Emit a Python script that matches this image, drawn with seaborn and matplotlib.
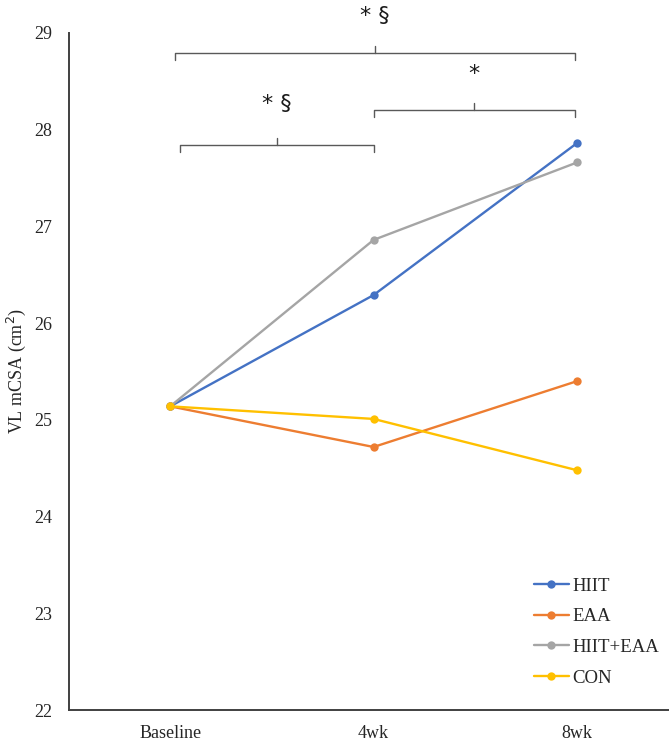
import numpy as np
import pandas as pd
import matplotlib.pyplot as plt
import seaborn as sns

# data
timepoints = ['Baseline', '4wk', '8wk']
groups = ['HIIT', 'EAA', 'HIIT+EAA', 'CON']
hiit = [25.14, 26.29, 27.86]
eaa = [25.14, 24.72, 25.40]
hiit_eaa = [25.14, 26.86, 27.66]
con = [25.14, 25.01, 24.48]
colors = ['#4472C4', '#ED7D31', '#A5A5A5', '#FFC000']

rows = []
for g, vals in zip(groups, [hiit, eaa, hiit_eaa, con]):
    for i, v in enumerate(vals):
        rows.append({'group': g, 'pos': i, 'time': timepoints[i], 'value': v})
df = pd.DataFrame(rows)

sns.set_style('white')
plt.rcParams['font.family'] = ['Liberation Serif', 'DejaVu Serif']

fig = plt.figure(figsize=(6.69, 7.46), dpi=100)
ax = fig.add_axes([0.1024, 0.048, 0.912, 0.908])

sns.lineplot(data=df, x='pos', y='value', hue='group', hue_order=groups,
             palette=colors, marker='o', markersize=6, markeredgewidth=0,
             linewidth=1.7, ax=ax, sort=False)

ax.set_xlim(-0.5, 2.5)
ax.set_ylim(22, 29)
ax.set_xticks(range(len(timepoints)))
ax.set_xticklabels(timepoints)
ax.set_yticks(range(22, 30))
ax.set_xlabel('')
ax.set_ylabel('VL mCSA (cm$^{2}$)', fontsize=13, labelpad=4)
ax.tick_params(axis='both', length=0, labelsize=13, colors='#262626')
ax.tick_params(axis='x', pad=11)
ax.tick_params(axis='y', pad=12)

for s in ['top', 'right']:
    ax.spines[s].set_visible(False)
for s in ['left', 'bottom']:
    ax.spines[s].set_color('#404040')
    ax.spines[s].set_linewidth(1.4)

leg = ax.legend(loc='lower right', bbox_to_anchor=(0.995, 0.01), frameon=False,
                fontsize=13.5, handlelength=1.9, handletextpad=0.15,
                labelspacing=0.72)

# significance brackets
def bracket(x0, x1, y, text, ty, h=0.07):
    c = '#595959'
    ax.plot([x0, x0, x1, x1], [y - h, y, y, y - h], color=c, lw=1.0, clip_on=False)
    xm = (x0 + x1) / 2
    ax.plot([xm, xm], [y, y + h], color=c, lw=1.0, clip_on=False)
    ax.text(xm, ty, text, ha='center', va='center', fontsize=16,
            family=['DejaVu Sans'], color='#1a1a1a', clip_on=False)

bracket(0.025, 1.99, 28.79, '* §', 29.17)
bracket(1.0, 1.99, 28.20, '*', 28.57)
bracket(0.05, 1.0, 27.84, '* §', 28.26)

fig.savefig('out.png', dpi=100)
